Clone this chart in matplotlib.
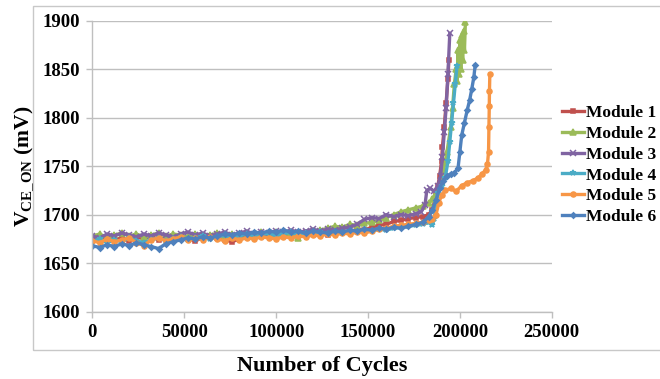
import matplotlib
matplotlib.use("Agg")
import matplotlib.pyplot as plt
from matplotlib.patches import Rectangle

plt.rcParams['font.family'] = ['Liberation Serif', 'DejaVu Serif']
plt.rcParams['font.weight'] = 'bold'
plt.rcParams['mathtext.fontset'] = 'custom'
plt.rcParams['mathtext.rm'] = 'Liberation Serif:bold'
plt.rcParams['mathtext.bf'] = 'Liberation Serif:bold'
plt.rcParams['mathtext.it'] = 'Liberation Serif:bold'

# Shared sampling grid of the stable (pre-degradation) phase, every 4000 cycles
flat_cycles = list(range(0, 176001, 4000))

# ---- Module 1 ----
m1_flat = [1675, 1673, 1677, 1674, 1676, 1673, 1677, 1675, 1678, 1674, 1677, 1676,
           1678, 1675, 1673, 1676, 1678, 1676, 1674, 1672, 1675, 1678, 1677, 1679,
           1678, 1680, 1678, 1681, 1679, 1682, 1680, 1681, 1679, 1682, 1683, 1682,
           1685, 1684, 1687, 1689, 1690, 1693, 1694, 1696, 1697]
m1_tail_cycles = [180000, 183000, 185000, 187000, 188000, 189000, 190000, 190500,
                  191500, 192500, 193500, 194000]
m1_tail = [1698, 1700, 1705, 1720, 1730, 1740, 1755, 1770, 1790, 1815, 1840, 1860]

# ---- Module 2 ----
m2_flat = [1678, 1680, 1676, 1679, 1681, 1678, 1680, 1677, 1679, 1681, 1678, 1680,
           1679, 1677, 1680, 1678, 1679, 1681, 1678, 1680, 1679, 1681, 1680, 1682,
           1680, 1682, 1681, 1679, 1676, 1681, 1683, 1684, 1686, 1688, 1687, 1690,
           1689, 1691, 1692, 1694, 1697, 1700, 1703, 1705, 1707]
m2_tail_cycles = [180000, 183000, 185000, 187000, 189000, 191000, 193000, 195000,
                  196000, 197000, 198000, 198500, 199000, 199500, 200000, 200500,
                  201000, 201500, 202000, 202500, 203000]
m2_tail = [1709, 1712, 1716, 1722, 1732, 1745, 1765, 1790, 1810, 1835, 1850, 1838,
           1870, 1845, 1880, 1850, 1885, 1860, 1890, 1870, 1899]

# ---- Module 3 ----
m3_flat = [1678, 1676, 1680, 1678, 1681, 1679, 1677, 1680, 1678, 1681, 1679, 1677,
           1680, 1682, 1679, 1681, 1678, 1680, 1682, 1679, 1681, 1683, 1680, 1682,
           1681, 1683, 1682, 1684, 1682, 1683, 1685, 1683, 1685, 1684, 1686, 1687,
           1690, 1695, 1697, 1696, 1700, 1698, 1700, 1699, 1701]
m3_tail_cycles = [179000, 181000, 182000, 184000, 186000, 188000, 189500, 190500,
                  191500, 192500, 193500, 194500]
m3_tail = [1703, 1710, 1725, 1727, 1724, 1730, 1740, 1760, 1785, 1810, 1845, 1887]

# ---- Module 4 ----
m4_flat = [1672, 1675, 1671, 1674, 1672, 1676, 1673, 1671, 1674, 1676, 1673, 1675,
           1677, 1674, 1676, 1678, 1675, 1677, 1679, 1676, 1678, 1680, 1677, 1679,
           1681, 1678, 1680, 1682, 1679, 1681, 1680, 1682, 1680, 1682, 1681, 1683,
           1682, 1684, 1683, 1685, 1684, 1686, 1687, 1688, 1689]
m4_tail_cycles = [180000, 183000, 185000, 186000, 187000, 188000, 190000, 192000,
                  193500, 194500, 195500, 196500, 197500, 198400]
m4_tail = [1690, 1692, 1689, 1696, 1710, 1722, 1730, 1738, 1755, 1775, 1795, 1815,
           1835, 1853]

# ---- Module 5 ----
m5_flat = [1673, 1671, 1675, 1672, 1674, 1676, 1671, 1668, 1674, 1676, 1673, 1675,
           1677, 1674, 1676, 1674, 1677, 1675, 1673, 1676, 1674, 1676, 1675, 1677,
           1676, 1675, 1677, 1676, 1678, 1677, 1679, 1678, 1680, 1679, 1681, 1680,
           1682, 1681, 1683, 1685, 1686, 1688, 1689, 1690, 1691]
m5_tail_cycles = [180000, 183000, 185000, 187000, 188500, 190000, 192000, 195000,
                  198000, 201000, 204000, 207000, 210000, 212000, 214000, 215000,
                  215600, 215800, 216000, 216100, 216300]
m5_tail = [1692, 1694, 1696, 1700, 1712, 1720, 1725, 1727, 1724, 1730, 1733, 1735,
           1738, 1742, 1746, 1752, 1765, 1790, 1812, 1828, 1845]

# ---- Module 6 ----
m6_flat = [1668, 1666, 1669, 1667, 1670, 1668, 1671, 1669, 1667, 1665, 1670, 1672,
           1674, 1676, 1675, 1677, 1676, 1678, 1680, 1679, 1681, 1680, 1682, 1681,
           1683, 1682, 1684, 1682, 1683, 1681, 1683, 1682, 1681, 1683, 1682, 1684,
           1683, 1685, 1684, 1686, 1685, 1687, 1686, 1688, 1690]
m6_tail_cycles = [180000, 183000, 185000, 187000, 189000, 191000, 193000, 195000,
                  197000, 199000, 200000, 201000, 202500, 204000, 205300, 206500,
                  207600, 208300]
m6_tail = [1692, 1698, 1705, 1715, 1728, 1735, 1740, 1742, 1743, 1748, 1765, 1782,
           1795, 1808, 1818, 1830, 1842, 1854]

modules = [
    ("Module 1", m1_flat, m1_tail_cycles, m1_tail, "#C0504D", "s", 3.4),
    ("Module 2", m2_flat, m2_tail_cycles, m2_tail, "#9BBB59", "^", 3.8),
    ("Module 3", m3_flat, m3_tail_cycles, m3_tail, "#8064A2", "x", 3.8),
    ("Module 4", m4_flat, m4_tail_cycles, m4_tail, "#4BACC6", "*", 4.4),
    ("Module 5", m5_flat, m5_tail_cycles, m5_tail, "#F79646", "o", 3.6),
    ("Module 6", m6_flat, m6_tail_cycles, m6_tail, "#4F81BD", "D", 2.8),
]

x_ticks = [0, 50000, 100000, 150000, 200000, 250000]
y_ticks = [1600, 1650, 1700, 1750, 1800, 1850, 1900]

fig = plt.figure(figsize=(6.6, 3.79), dpi=100)
ax = fig.add_axes([0.140, 0.178, 0.696, 0.767])

# outer chart frame
fig.patches.append(Rectangle((33 / 660, 1 - 350 / 379), 700 / 660, 344 / 379,
                             transform=fig.transFigure, fill=False,
                             edgecolor="#C8C8C8", linewidth=1.0, zorder=0))

for name, flat, tcyc, tval, color, mk, ms in modules:
    xs = flat_cycles + tcyc
    ys = flat + tval
    ax.plot(xs, ys, color=color, lw=2.4, marker=mk, markersize=ms,
            markeredgewidth=1.1, markerfacecolor=color, markeredgecolor=color,
            label=name)

ax.set_xlim(0, 250000)
ax.set_ylim(1600, 1900)
ax.set_xticks(x_ticks)
ax.set_yticks(y_ticks)
ax.set_xticklabels([str(v) for v in x_ticks])
ax.set_yticklabels([str(v) for v in y_ticks])
ax.tick_params(axis="both", labelsize=13.5, length=4, width=1.0,
               color="#BFBFBF", direction="out", pad=5)
ax.grid(axis="y", color="#BFBFBF", linewidth=1.0)
ax.set_axisbelow(True)
for side in ("top", "right"):
    ax.spines[side].set_visible(False)
for side in ("left", "bottom"):
    ax.spines[side].set_color("#BFBFBF")
    ax.spines[side].set_linewidth(1.0)

ax.set_xlabel("Number of Cycles", fontsize=16, fontweight="bold", labelpad=11)
ax.set_ylabel(r"V$_{\rm CE\_ON}$ (mV)", fontsize=15.5, fontweight="bold", labelpad=5)

leg = ax.legend(loc="center left", bbox_to_anchor=(0.995, 0.504), frameon=False,
                fontsize=12.5, handlelength=1.3, handletextpad=0.12,
                labelspacing=0.27, borderaxespad=0.3)

fig.savefig("out.png", dpi=100)
